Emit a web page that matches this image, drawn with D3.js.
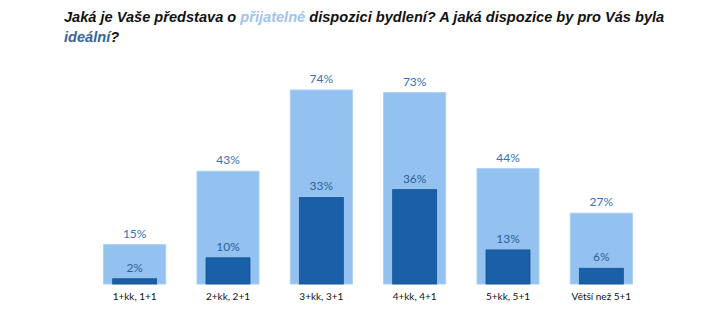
<!DOCTYPE html>
<html>
<head>
<meta charset="utf-8">
<script src="https://cdn.jsdelivr.net/npm/d3@7/dist/d3.min.js"></script>
<style>
  html, body { margin: 0; padding: 0; background: #fff; }
  svg { display: block; }
</style>
</head>
<body>
<svg id="chart" width="706" height="331"></svg>
<script>
// Apartment layout preferences: acceptable vs. ideal
const categories = ["1+kk, 1+1", "2+kk, 2+1", "3+kk, 3+1", "4+kk, 4+1", "5+kk, 5+1", "Větší než 5+1"];
const acceptable = [15, 43, 74, 73, 44, 27];
const ideal = [2, 10, 33, 36, 13, 6];

const svg = d3.select("#chart");
const baseY = 284;

const x = d3.scaleBand()
  .domain(categories)
  .range([88, 648])
  .paddingInner(0)
  .paddingOuter(0);

const y = d3.scaleLinear().domain([0, 74]).range([baseY, 90]);

const outerW = 62, innerW = 44;
const cx = d => x(d) + x.bandwidth() / 2;

// wide light bars (acceptable)
svg.append("g").selectAll("rect")
  .data(categories)
  .join("rect")
  .attr("x", d => cx(d) - outerW / 2)
  .attr("width", outerW)
  .attr("y", (d, i) => y(acceptable[i]))
  .attr("height", (d, i) => baseY - y(acceptable[i]))
  .attr("fill", "#93c2f0")
  .attr("stroke", "#a9cff3")
  .attr("stroke-width", 1);

// narrow dark bars (ideal)
svg.append("g").selectAll("rect")
  .data(categories)
  .join("rect")
  .attr("x", d => cx(d) - innerW / 2)
  .attr("width", innerW)
  .attr("y", (d, i) => y(ideal[i]))
  .attr("height", (d, i) => baseY - y(ideal[i]))
  .attr("fill", "#1a60a8")
  .attr("stroke", "#17538f")
  .attr("stroke-width", 0.8);

const labelFont = "Lato, 'Open Sans', sans-serif";

// value labels
svg.append("g").selectAll("text")
  .data(categories)
  .join("text")
  .attr("x", d => cx(d))
  .attr("y", (d, i) => y(acceptable[i]) - 7)
  .attr("text-anchor", "middle")
  .attr("font-family", labelFont)
  .attr("font-size", 12)
  .attr("fill", "#3572b6")
  .text((d, i) => acceptable[i] + "%");

svg.append("g").selectAll("text")
  .data(categories)
  .join("text")
  .attr("x", d => cx(d))
  .attr("y", (d, i) => y(ideal[i]) - 7)
  .attr("text-anchor", "middle")
  .attr("font-family", labelFont)
  .attr("font-size", 12)
  .attr("fill", "#2f5f97")
  .text((d, i) => ideal[i] + "%");

// category axis labels
const xAxis = d3.axisBottom(x).tickSize(0).tickPadding(9);
const ax = svg.append("g").attr("transform", `translate(0,${baseY})`).call(xAxis);
ax.select(".domain").remove();
ax.selectAll("text")
  .attr("font-family", labelFont)
  .attr("font-size", 10)
  .attr("fill", "#111");

// title
const title = svg.append("text")
  .attr("font-family", "'Liberation Sans', Arial, sans-serif")
  .attr("font-weight", "bold")
  .attr("font-style", "italic")
  .attr("font-size", 14.6)
  .attr("fill", "#111");

const line1 = title.append("tspan").attr("x", 64).attr("y", 22);
line1.append("tspan").text("Jaká je Vaše představa o ");
line1.append("tspan").attr("fill", "#9dc5ec").text("přijatelné");
line1.append("tspan").text(" dispozici bydlení? A jaká dispozice by pro Vás byla");

const line2 = title.append("tspan").attr("x", 64).attr("y", 42);
line2.append("tspan").attr("fill", "#3a6495").text("ideální");
line2.append("tspan").text("?");
</script>
</body>
</html>
